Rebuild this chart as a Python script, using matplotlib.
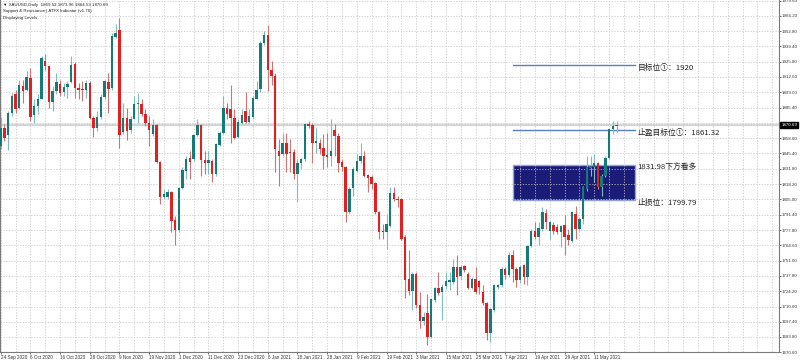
import matplotlib.pyplot as plt
from matplotlib.patches import Rectangle
import numpy as np

# XAUUSD daily, 24 Sep 2020 - 19 May 2021 (one entry per bar)
opens = [1852.0, 1867.9, 1861.2, 1880.4, 1897.1, 1885.1, 1904.4, 1900.9, 1911.7, 1878.7,
         1886.9, 1893.3, 1926.8, 1921.9, 1890.7, 1900.6, 1906.0, 1899.1, 1903.5, 1907.9,
         1923.9, 1902.9, 1902.0, 1901.4, 1907.3, 1876.1, 1867.9, 1877.5, 1895.0, 1907.9,
         1902.9, 1947.5, 1953.4, 1864.1, 1876.6, 1865.6, 1875.8, 1888.5, 1888.9, 1879.6,
         1872.3, 1862.1, 1869.9, 1837.9, 1806.6, 1807.2, 1811.0, 1786.8, 1777.5, 1814.8,
         1830.0, 1840.8, 1840.2, 1861.2, 1869.9, 1839.3, 1836.4, 1838.7, 1827.1, 1852.4,
         1863.5, 1885.4, 1884.0, 1876.1, 1859.7, 1872.3, 1883.0, 1873.1, 1877.5, 1893.3,
         1902.0, 1942.3, 1949.6, 1918.9, 1913.7, 1847.5, 1844.5, 1854.8, 1846.9, 1846.9,
         1827.0, 1837.2, 1840.2, 1870.8, 1869.9, 1854.2, 1854.8, 1849.8, 1843.7, 1843.1,
         1865.8, 1860.6, 1837.8, 1833.4, 1793.5, 1814.5, 1829.9, 1838.7, 1843.1, 1826.2,
         1824.7, 1818.9, 1794.1, 1776.6, 1776.0, 1781.8, 1810.1, 1805.2, 1805.2, 1771.6,
         1734.6, 1724.1, 1738.9, 1711.8, 1697.8, 1704.5, 1684.1, 1716.2, 1727.0, 1723.5,
         1728.7, 1732.2, 1732.2, 1745.4, 1737.2, 1745.9, 1739.5, 1727.0, 1734.6, 1732.8,
         1723.5, 1713.3, 1687.0, 1707.4, 1727.9, 1729.3, 1743.9, 1738.1, 1755.6, 1743.9,
         1733.7, 1746.8, 1736.6, 1763.7, 1777.4, 1771.6, 1778.9, 1792.9, 1777.4, 1782.4,
         1780.9, 1776.0, 1782.4, 1773.6, 1767.8, 1792.0, 1778.9, 1787.6, 1813.9, 1832.0,
         1833.4, 1837.2, 1815.4, 1825.6, 1841.6, 1866.4, 1869.52]
highs = [1877.0, 1870.8, 1882.5, 1898.5, 1900.9, 1910.2, 1910.2, 1917.5, 1920.4, 1892.7,
         1897.1, 1930.6, 1932.7, 1923.3, 1904.4, 1916.0, 1910.2, 1907.3, 1908.7, 1930.6,
         1925.4, 1907.3, 1908.7, 1910.2, 1908.7, 1878.1, 1882.5, 1897.1, 1910.2, 1916.0,
         1951.0, 1959.2, 1964.2, 1889.8, 1885.4, 1878.1, 1896.2, 1898.5, 1892.7, 1884.0,
         1878.1, 1875.2, 1870.8, 1838.7, 1813.9, 1813.9, 1812.5, 1790.6, 1815.4, 1832.9,
         1843.1, 1847.5, 1862.1, 1875.2, 1870.8, 1847.5, 1847.5, 1840.2, 1854.8, 1865.0,
         1895.6, 1890.0, 1905.8, 1884.0, 1875.2, 1884.0, 1899.1, 1884.0, 1895.6, 1908.7,
         1944.0, 1952.5, 1958.3, 1926.2, 1916.0, 1857.7, 1863.5, 1863.5, 1857.7, 1848.9,
         1840.2, 1841.6, 1872.3, 1873.7, 1872.3, 1867.9, 1857.7, 1862.0, 1863.5, 1875.2,
         1870.8, 1863.5, 1840.2, 1834.3, 1815.4, 1832.9, 1844.5, 1854.8, 1847.5, 1827.0,
         1826.2, 1819.8, 1795.0, 1783.3, 1792.0, 1815.4, 1815.4, 1808.0, 1806.0, 1773.1,
         1760.0, 1740.9, 1740.9, 1723.5, 1706.0, 1722.0, 1717.7, 1727.9, 1740.9, 1730.8,
         1740.9, 1740.9, 1752.7, 1755.6, 1746.9, 1746.9, 1740.9, 1736.6, 1745.4, 1733.7,
         1729.3, 1714.7, 1708.9, 1730.8, 1730.8, 1745.4, 1745.4, 1758.5, 1760.0, 1745.4,
         1747.3, 1748.3, 1764.3, 1778.9, 1784.7, 1784.7, 1797.9, 1796.4, 1786.2, 1784.7,
         1783.3, 1782.4, 1791.2, 1778.9, 1794.9, 1799.3, 1789.1, 1816.8, 1843.1, 1843.1,
         1844.5, 1837.8, 1827.0, 1843.1, 1867.9, 1873.7, 1873.96]
lows = [1849.0, 1856.2, 1848.4, 1878.1, 1881.0, 1884.0, 1889.8, 1900.0, 1873.7, 1872.3,
        1879.6, 1892.7, 1919.0, 1885.4, 1882.5, 1897.1, 1895.6, 1895.6, 1894.1, 1907.3,
        1894.1, 1892.7, 1891.2, 1894.1, 1875.2, 1860.0, 1865.0, 1875.2, 1892.7, 1881.0,
        1901.4, 1946.7, 1850.4, 1862.1, 1857.1, 1863.5, 1875.2, 1871.7, 1878.1, 1869.4,
        1851.9, 1860.6, 1836.7, 1800.8, 1805.2, 1805.2, 1776.0, 1764.3, 1776.0, 1813.9,
        1822.7, 1822.7, 1838.7, 1860.6, 1825.6, 1827.1, 1827.1, 1819.8, 1825.6, 1851.9,
        1862.1, 1875.2, 1854.8, 1857.7, 1859.1, 1870.8, 1872.3, 1871.7, 1875.2, 1892.7,
        1899.0, 1940.8, 1900.0, 1905.8, 1828.5, 1816.8, 1843.1, 1828.5, 1828.5, 1822.7,
        1802.2, 1831.4, 1838.7, 1867.9, 1837.2, 1846.0, 1844.5, 1831.4, 1832.9, 1834.3,
        1843.1, 1828.5, 1829.9, 1784.7, 1792.0, 1808.1, 1828.5, 1837.2, 1824.1, 1811.0,
        1813.9, 1792.0, 1770.2, 1770.2, 1761.4, 1780.3, 1803.7, 1798.0, 1768.7, 1717.7,
        1720.6, 1707.4, 1708.9, 1691.4, 1694.3, 1676.8, 1682.7, 1714.7, 1720.6, 1698.7,
        1726.4, 1724.9, 1730.8, 1720.6, 1735.2, 1740.9, 1726.4, 1726.4, 1722.0, 1722.0,
        1711.8, 1681.2, 1679.7, 1706.0, 1726.4, 1727.9, 1735.2, 1736.6, 1732.2, 1727.9,
        1731.7, 1730.8, 1729.3, 1762.9, 1770.2, 1764.3, 1777.4, 1778.9, 1770.2, 1774.6,
        1774.6, 1762.9, 1755.6, 1764.3, 1767.2, 1770.2, 1777.4, 1783.3, 1812.4, 1825.6,
        1819.8, 1813.9, 1807.5, 1824.1, 1840.7, 1862.0, 1864.53]
closes = [1868.0, 1859.1, 1881.0, 1896.2, 1884.5, 1905.2, 1900.0, 1912.5, 1877.2, 1887.4,
          1892.7, 1929.2, 1921.9, 1890.7, 1900.6, 1907.9, 1898.5, 1903.5, 1906.4, 1923.3,
          1902.9, 1900.9, 1901.4, 1907.3, 1876.1, 1867.3, 1877.5, 1895.0, 1908.7, 1902.0,
          1948.7, 1951.0, 1861.5, 1876.6, 1865.0, 1875.8, 1888.9, 1889.5, 1879.6, 1871.7,
          1865.9, 1869.9, 1837.3, 1807.2, 1809.6, 1811.0, 1786.2, 1777.5, 1814.5, 1830.9,
          1840.2, 1837.9, 1861.5, 1869.9, 1839.3, 1836.7, 1839.3, 1827.1, 1853.3, 1863.5,
          1885.0, 1879.6, 1876.1, 1859.1, 1872.9, 1878.7, 1873.1, 1878.1, 1893.6, 1901.4,
          1942.3, 1949.6, 1918.9, 1913.1, 1848.9, 1843.1, 1854.8, 1844.5, 1845.4, 1827.0,
          1837.2, 1840.2, 1870.8, 1869.3, 1854.8, 1856.2, 1848.9, 1843.1, 1842.5, 1847.5,
          1860.6, 1837.2, 1832.9, 1793.5, 1813.9, 1831.4, 1838.7, 1843.1, 1825.0, 1823.5,
          1818.3, 1793.5, 1776.0, 1776.0, 1783.3, 1810.1, 1805.2, 1804.0, 1770.2, 1733.7,
          1724.1, 1738.9, 1711.8, 1697.8, 1701.6, 1684.1, 1716.8, 1727.0, 1722.6, 1727.9,
          1732.8, 1733.7, 1745.4, 1736.6, 1745.4, 1742.4, 1727.0, 1735.2, 1723.5, 1727.9,
          1713.3, 1687.0, 1708.3, 1729.3, 1729.3, 1743.9, 1738.1, 1755.6, 1743.9, 1733.7,
          1745.4, 1736.6, 1763.7, 1776.9, 1771.6, 1779.5, 1793.5, 1784.7, 1784.7, 1777.4,
          1776.0, 1781.8, 1771.6, 1768.7, 1793.5, 1778.9, 1787.6, 1815.4, 1832.9, 1834.3,
          1837.2, 1815.4, 1825.6, 1841.6, 1866.4, 1869.3, 1870.69]

date_labels = ['24 Sep 2020', '6 Oct 2020', '16 Oct 2020', '28 Oct 2020', '9 Nov 2020',
               '19 Nov 2020', '1 Dec 2020', '11 Dec 2020', '23 Dec 2020', '6 Jan 2021',
               '18 Jan 2021', '28 Jan 2021', '9 Feb 2021', '19 Feb 2021', '3 Mar 2021',
               '15 Mar 2021', '25 Mar 2021', '7 Apr 2021', '19 Apr 2021', '29 Apr 2021',
               '11 May 2021']
price_ticks = [1979.60, 1966.20, 1952.80, 1939.40, 1925.80, 1912.60, 1899.00, 1885.40,
               1872.00, 1858.60, 1845.40, 1831.80, 1818.20, 1805.00, 1791.40, 1777.80,
               1764.60, 1751.00, 1737.80, 1724.20, 1710.60, 1697.40, 1683.80, 1670.60]

# drawn levels (where the objects sit on the chart) and their captions
level_lines = [1922.7, 1865.8]
level_texts = ['目标位①：1920', '止盈目标位①：1861.32']
zone = [1804.0, 1835.5]
zone_texts = ['止损位：1799.79', '1831.98下方看多']

o = np.array(opens); h = np.array(highs); l = np.array(lows); c = np.array(closes)
x = np.arange(len(o))
up = c >= o
ymin, ymax = 1672.1, 1980.2

fig = plt.figure(figsize=(8, 3.62), dpi=100)
ax = fig.add_axes([0, 10 / 362, 779 / 800, 352 / 362])
ax.set_xlim(-0.19, 209.8)
ax.set_ylim(ymin, ymax)

# grid
for p in price_ticks:
    ax.axhline(p, color='#c4c4c4', lw=0.5, ls=(0, (2, 2)), zorder=1.5)
for v in range(0, 210, 4):
    ax.axvline(v, color='#c4c4c4', lw=0.5, ls=(0, (2, 2)), zorder=1.5)

# bid line
ax.axhline(c[-1], color='#d4d4d4', lw=1.6, zorder=1.2)

# zone box and level lines
x0, x1 = 138.2, 171.0
ax.add_patch(Rectangle((x0, zone[0]), x1 - x0, zone[1] - zone[0],
                       facecolor='#1b1b78', edgecolor='#8fa3d6', lw=1.0, zorder=1))
for lv in level_lines:
    ax.plot([x0, x1], [lv, lv], color='#5b7dc6', lw=1.0, zorder=2)

cjk = ['Noto Sans CJK SC', 'DejaVu Sans']
for lv, t in zip(level_lines, level_texts):
    ax.text(x1 + 0.6, lv - 2.6, t, fontsize=5.6, family=cjk, va='center', ha='left', color='#222222')
ax.text(x1 + 0.6, zone[1] - 2.6, zone_texts[1], fontsize=5.6, family=cjk, va='center', ha='left', color='#222222')
ax.text(x1 + 0.6, zone[0] - 2.6, zone_texts[0], fontsize=5.6, family=cjk, va='center', ha='left', color='#222222')

# candles
ax.vlines(x[up], l[up], h[up], color='#7fbdbb', lw=0.8, zorder=3)
ax.vlines(x[~up], l[~up], h[~up], color='#cf7474', lw=0.8, zorder=3)
body_b = np.minimum(o, c)
body_h = np.maximum(np.abs(c - o), 0.5)
ax.bar(x[up], body_h[up], bottom=body_b[up], width=0.66, color='#157b78', lw=0, zorder=4)
ax.bar(x[~up], body_h[~up], bottom=body_b[~up], width=0.66, color='#e2201f', lw=0, zorder=4)

# axes
ax.yaxis.tick_right()
ax.set_yticks(price_ticks)
ax.set_yticklabels(['%.2f' % p if abs(p - 1872.0) > 0.1 else '' for p in price_ticks])
ax.set_xticks(np.arange(0, 8 * len(date_labels), 8))
ax.set_xticklabels(date_labels, ha='left')
ax.tick_params(axis='y', labelsize=3.2, length=1.5, width=0.5, pad=0.6, colors='#333333')
ax.tick_params(axis='x', labelsize=3.3, length=1.5, width=0.5, pad=0.8, colors='#333333')
for lab in ax.get_xticklabels() + ax.get_yticklabels():
    lab.set_family('Liberation Sans')
for s in ax.spines.values():
    s.set_color('#7a7a7a')
    s.set_linewidth(0.8)
ax.spines['top'].set_visible(False)

# current price tag
ax.text(1.003, (c[-1] - ymin) / (ymax - ymin), '%.2f' % c[-1], transform=ax.transAxes,
        fontsize=3.2, family='Liberation Sans', color='white', va='center', ha='left',
        bbox=dict(boxstyle='square,pad=0.25', fc='black', ec='black'))

# header
hdr = ['Liberation Sans', 'DejaVu Sans']
fig.text(0.004, 0.992, '\u25bc XAUUSD,Daily  %.2f %.2f %.2f %.2f' % (o[-1], h[-1], l[-1], c[-1]),
         fontsize=3.2, family=hdr, va='top', ha='left', color='#222222')
fig.text(0.004, 0.974, 'Support & Resistance | ATFX Indicator (v1.76)', fontsize=3.2, family=hdr,
         va='top', ha='left', color='#222222')
fig.text(0.004, 0.957, 'Displaying Levels', fontsize=3.2, family=hdr, va='top', ha='left', color='#222222')

fig.savefig('out.png', dpi=100)
